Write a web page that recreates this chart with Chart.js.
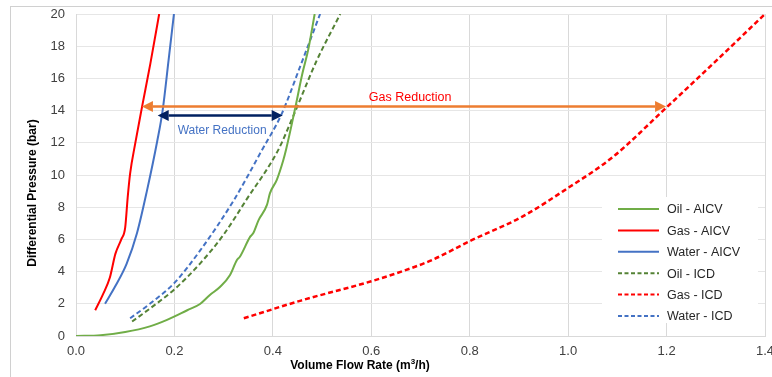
<!DOCTYPE html>
<html lang="en">
  <head>
    <meta charset="UTF-8" />
    <meta name="viewport" content="width=device-width, initial-scale=1.0" />
    <title>AICV vs ICD flow performance</title>

    <!-- Chart JS library -->
    <script src="https://cdn.jsdelivr.net/npm/chart.js"></script>
    <style>
      html, body { margin: 0; padding: 0; background: #fff; }
    </style>
  </head>

  <body>
    <canvas id="myChart" width="772" height="377"></canvas>

    <script>
      // flow rate (m3/h) and differential pressure (bar) for each curve
      const oilAicvX = [0, 0.05, 0.1, 0.15, 0.185, 0.226, 0.252, 0.272, 0.293, 0.313, 0.327, 0.333, 0.354, 0.36, 0.371, 0.388, 0.394, 0.408, 0.421, 0.427, 0.445, 0.46, 0.472, 0.485];
      const oilAicvY = [0, 0.05, 0.25, 0.6, 1.0, 1.6, 1.99, 2.55, 3.06, 3.79, 4.72, 4.92, 6.17, 6.38, 7.2, 8.14, 8.86, 9.7, 10.9, 11.6, 14.1, 16.3, 17.8, 20];

      const gasAicvX = [0.039, 0.055, 0.069, 0.08, 0.092, 0.1, 0.105, 0.11, 0.12, 0.134, 0.151, 0.169];
      const gasAicvY = [1.6, 2.6, 3.65, 5.1, 6.0, 6.75, 8.6, 10.1, 11.9, 14.2, 16.9, 20];

      const waterAicvX = [0.059, 0.08, 0.103, 0.124, 0.144, 0.165, 0.176, 0.188, 0.199];
      const waterAicvY = [2.0, 3.1, 4.5, 6.4, 9.0, 12.1, 14.0, 17.1, 20];

      const oilIcdX = [0.114, 0.15, 0.2, 0.252, 0.3, 0.347, 0.41, 0.442, 0.489, 0.537];
      const oilIcdY = [0.9, 1.7, 2.9, 4.5, 6.3, 8.5, 11.5, 13.7, 17.1, 20];

      const gasIcdX = [0.341, 0.457, 0.6, 0.661, 0.722, 0.804, 0.906, 1.0, 1.09, 1.2, 1.294, 1.4];
      const gasIcdY = [1.1, 2.2, 3.4, 4.0, 4.7, 5.95, 7.4, 9.2, 11.1, 14.2, 16.9, 20];

      const waterIcdX = [0.11, 0.15, 0.2, 0.252, 0.32, 0.377, 0.418, 0.455, 0.496];
      const waterIcdY = [1.1, 2.0, 3.3, 5.3, 8.4, 11.5, 13.8, 16.7, 20];

      const seriesNames = ["Oil - AICV", "Gas - AICV", "Water - AICV", "Oil - ICD", "Gas - ICD", "Water - ICD"];

      // reduction arrows: [from, to] flow rate at a fixed pressure
      const gasReductionX = [0.134, 1.199];
      const gasReductionY = 14.25;
      const waterReductionX = [0.166, 0.42];
      const waterReductionY = 13.7;

      const xTicks = [0, 0.2, 0.4, 0.6, 0.8, 1.0, 1.2, 1.4];
      const yTicks = [0, 2, 4, 6, 8, 10, 12, 14, 16, 18, 20];

      const FONT = "'Liberation Sans', Arial, sans-serif";

      function toPoints(xs, ys) {
        return xs.map((x, i) => ({ x: x, y: ys[i] }));
      }

      function curve(i, xs, ys, color, dash, width) {
        return {
          label: seriesNames[i],
          data: toPoints(xs, ys),
          showLine: true,
          borderColor: color,
          backgroundColor: color,
          borderWidth: width,
          borderDash: dash,
          pointRadius: 0,
          cubicInterpolationMode: "monotone",
          fill: false,
        };
      }

      // light frame round the whole chart
      const framePlugin = {
        id: "frame",
        beforeDraw(chart) {
          const ctx = chart.ctx;
          ctx.save();
          ctx.fillStyle = "#fff";
          ctx.fillRect(0, 0, chart.width, chart.height);
          ctx.strokeStyle = "#d0d0d0";
          ctx.lineWidth = 1;
          ctx.strokeRect(10.5, 6.5, 900, 500);
          ctx.restore();
        },
      };

      function drawArrow(ctx, x1, x2, y, color, head) {
        ctx.save();
        ctx.strokeStyle = color;
        ctx.fillStyle = color;
        ctx.lineWidth = 2.5;
        ctx.beginPath();
        ctx.moveTo(x1 + head, y);
        ctx.lineTo(x2 - head, y);
        ctx.stroke();
        ctx.beginPath();
        ctx.moveTo(x1, y);
        ctx.lineTo(x1 + head, y - head / 2);
        ctx.lineTo(x1 + head, y + head / 2);
        ctx.closePath();
        ctx.fill();
        ctx.beginPath();
        ctx.moveTo(x2, y);
        ctx.lineTo(x2 - head, y - head / 2);
        ctx.lineTo(x2 - head, y + head / 2);
        ctx.closePath();
        ctx.fill();
        ctx.restore();
      }

      // arrows, their labels, the legend box and axis titles
      const notesPlugin = {
        id: "notes",
        afterDatasetsDraw(chart) {
          const ctx = chart.ctx;
          const xs = chart.scales.x;
          const ys = chart.scales.y;

          drawArrow(ctx, xs.getPixelForValue(gasReductionX[0]), xs.getPixelForValue(gasReductionX[1]),
            ys.getPixelForValue(gasReductionY), "#ed7d31", 11);
          drawArrow(ctx, xs.getPixelForValue(waterReductionX[0]), xs.getPixelForValue(waterReductionX[1]),
            ys.getPixelForValue(waterReductionY), "#002060", 11);

          ctx.save();
          ctx.textAlign = "center";
          ctx.textBaseline = "middle";
          ctx.font = "12.5px " + FONT;
          ctx.fillStyle = "#ff0000";
          ctx.fillText("Gas Reduction", xs.getPixelForValue(0.679), ys.getPixelForValue(14.78));
          ctx.font = "12px " + FONT;
          ctx.fillStyle = "#4472c4";
          ctx.fillText("Water Reduction", xs.getPixelForValue(0.297), ys.getPixelForValue(12.73));
          ctx.restore();

          // legend
          ctx.save();
          ctx.fillStyle = "#fff";
          ctx.fillRect(602, 197, 156, 126);
          ctx.font = "12.5px " + FONT;
          ctx.textBaseline = "middle";
          ctx.textAlign = "left";
          chart.data.datasets.forEach((ds, i) => {
            const y = 209 + i * 21.4;
            ctx.strokeStyle = ds.borderColor;
            ctx.lineWidth = 2;
            ctx.setLineDash(ds.borderDash.length ? [4, 2.5] : []);
            ctx.beginPath();
            ctx.moveTo(618, y);
            ctx.lineTo(659, y);
            ctx.stroke();
            ctx.setLineDash([]);
            ctx.fillStyle = "#262626";
            ctx.fillText(ds.label, 667, y + 1);
          });
          ctx.restore();

          // axis titles
          ctx.save();
          ctx.fillStyle = "#000";
          ctx.font = "bold 12px " + FONT;
          ctx.textBaseline = "middle";
          ctx.textAlign = "center";
          ctx.translate(33, 193);
          ctx.rotate(-Math.PI / 2);
          ctx.fillText("Differential Pressure (bar)", 0, 0);
          ctx.restore();

          ctx.save();
          ctx.fillStyle = "#000";
          ctx.textBaseline = "alphabetic";
          ctx.textAlign = "left";
          const main = "Volume Flow Rate (m";
          const tail = "/h)";
          ctx.font = "bold 12px " + FONT;
          const w1 = ctx.measureText(main).width;
          const w3 = ctx.measureText(tail).width;
          ctx.font = "bold 8px " + FONT;
          const w2 = ctx.measureText("3").width;
          let x = 360 - (w1 + w2 + w3) / 2;
          const base = 369;
          ctx.font = "bold 12px " + FONT;
          ctx.fillText(main, x, base);
          x += w1;
          ctx.font = "bold 8px " + FONT;
          ctx.fillText("3", x, base - 5);
          x += w2;
          ctx.font = "bold 12px " + FONT;
          ctx.fillText(tail, x, base);
          ctx.restore();
        },
      };

      const ctx = document.getElementById("myChart").getContext("2d");
      const myChart = new Chart(ctx, {
        type: "scatter",
        data: {
          datasets: [
            curve(0, oilAicvX, oilAicvY, "#70ad47", [], 2),
            curve(1, gasAicvX, gasAicvY, "#ff0000", [], 2),
            curve(2, waterAicvX, waterAicvY, "#4472c4", [], 2),
            curve(3, oilIcdX, oilIcdY, "#548235", [5, 3], 2),
            curve(4, gasIcdX, gasIcdY, "#ff0000", [5, 3], 2.5),
            curve(5, waterIcdX, waterIcdY, "#4472c4", [5, 3], 2),
          ],
        },
        options: {
          responsive: false,
          animation: false,
          layout: { padding: { left: 0, right: 7, top: 14, bottom: 0 } },
          plugins: {
            legend: { display: false },
            tooltip: { enabled: false },
          },
          scales: {
            x: {
              type: "linear",
              min: 0,
              max: 1.4,
              afterBuildTicks: (scale) => {
                scale.ticks = xTicks.map((v) => ({ value: v }));
              },
              afterFit: (scale) => {
                scale.height = 41;
                scale.paddingLeft = 0;
                scale.paddingRight = 0;
              },
              grid: { color: "#d9d9d9", drawTicks: false },
              border: { color: "#d9d9d9" },
              ticks: {
                padding: 8,
                color: "#404040",
                font: { family: FONT, size: 13 },
                maxRotation: 0,
                autoSkip: false,
                callback: (value) => value.toFixed(1),
              },
            },
            y: {
              type: "linear",
              min: 0,
              max: 20,
              afterBuildTicks: (scale) => {
                scale.ticks = yTicks.map((v) => ({ value: v }));
              },
              afterFit: (scale) => {
                scale.width = 76;
                scale.paddingTop = 0;
                scale.paddingBottom = 0;
              },
              grid: { color: "#e6e6e6", drawTicks: false },
              border: { color: "#d9d9d9" },
              ticks: {
                padding: 11,
                color: "#404040",
                font: { family: FONT, size: 13 },
                autoSkip: false,
              },
            },
          },
        },
        plugins: [framePlugin, notesPlugin],
      });
    </script>
  </body>
</html>
